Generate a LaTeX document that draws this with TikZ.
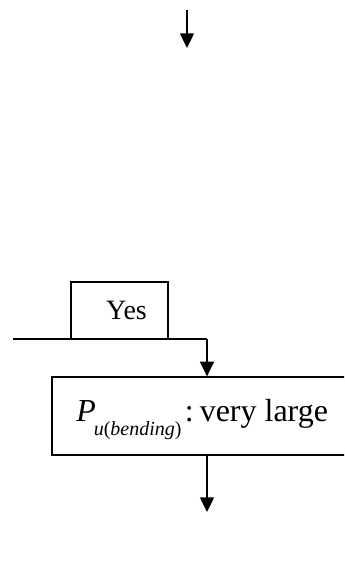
\documentclass[tikz,border=0pt]{standalone}
\usepackage{fontspec}
\setmainfont{Liberation Serif}
\usetikzlibrary{arrows.meta}
\begin{document}
\begin{tikzpicture}[x=0.75pt,y=-0.75pt,
  box/.style={draw=black,line width=1pt,rectangle,inner sep=0pt},
  conn/.style={draw=black,line width=1pt},
  arr/.style={conn,-{Triangle[length=11pt,width=10.5pt]}}]
\useasboundingbox (0,0) rectangle (344,568);
\clip (0,0) rectangle (344,568);
% top arrow
\coordinate (t1) at (187,10);
\coordinate (t2) at (187,48);
\draw[arr] (t1) -- (t2);
% Yes box
\node[box,minimum width=72.75pt,minimum height=42.75pt,
      font=\fontsize{21}{21}\selectfont] (yes) at (119.5,310.5) {\hspace*{10.5pt}Yes};
% branch line
\coordinate (l1) at (13,339);
\coordinate (l2) at (207,339);
% main box
\node[box,minimum width=232.5pt,minimum height=58.5pt] (main) at (207,416) {};
\node[anchor=base west,inner sep=0pt,font=\fontsize{24}{24}\selectfont] (mtext) at (76,421)
  {{\itshape P}\hspace{-1.5pt}\smash{\raisebox{-11pt}{\fontsize{15}{15}\selectfont\itshape u\upshape(\itshape bending\upshape)}}\hspace{2.5pt}:\hspace{4.5pt}very large};
\draw[conn] (l1) -- (l2);
\draw[arr] (l2) -- (main.north);
% bottom arrow
\coordinate (b2) at (207,512);
\draw[arr] (main.south) -- (b2);
\end{tikzpicture}
\end{document}
